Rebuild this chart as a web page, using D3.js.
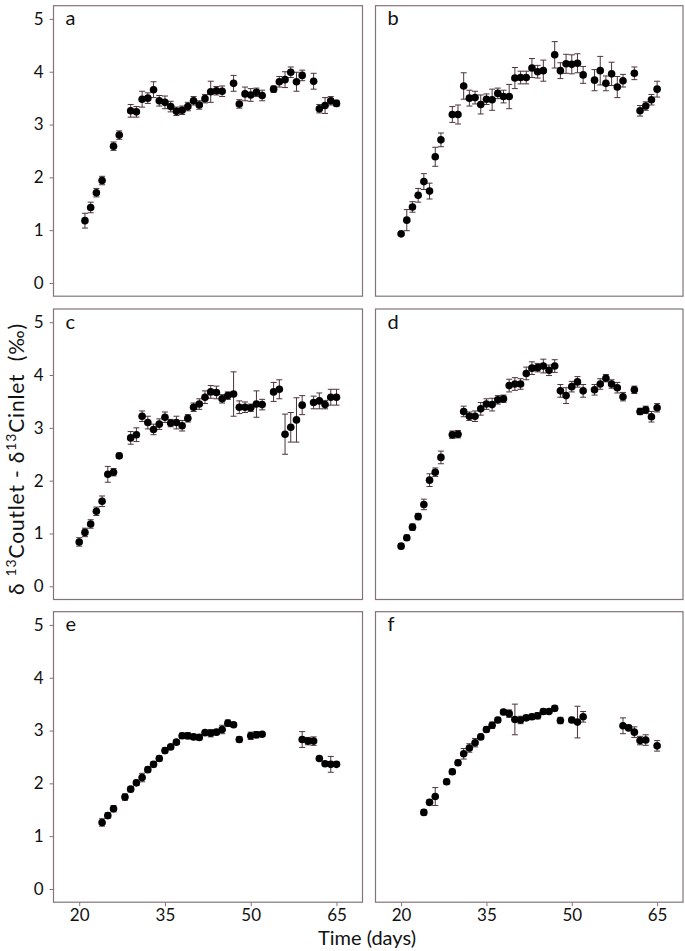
<!DOCTYPE html>
<html>
<head>
<meta charset="utf-8">
<script src="https://cdn.jsdelivr.net/npm/d3@7"></script>
<style>
  html, body { margin: 0; padding: 0; background: #fff; }
  svg { display: block; font-family: Lato, "Open Sans", sans-serif; }
</style>
</head>
<body>
<svg id="chart" width="685" height="951"></svg>
<script>
// ---------- DATA ----------
const xTicks = [20, 35, 50, 65];
const yTicks = [0, 1, 2, 3, 4, 5];
const panelLabels = ["a", "b", "c", "d", "e", "f"];

const daysA = [21,22,23,24,26,27,29,30,31,32,33,34,35,36,37,38,39,40,41,42,43,44,45,47,48,49,50,51,52,54,55,56,57,58,59,61,62,63,64,65];
const valsA = [1.18,1.43,1.71,1.94,2.59,2.80,3.26,3.24,3.48,3.50,3.66,3.45,3.42,3.34,3.25,3.27,3.34,3.45,3.37,3.49,3.62,3.64,3.63,3.78,3.39,3.58,3.56,3.61,3.55,3.67,3.81,3.85,3.99,3.81,3.93,3.82,3.30,3.36,3.45,3.40];
const errA  = [0.14,0.10,0.08,0.08,0.08,0.08,0.12,0.10,0.15,0.10,0.15,0.10,0.12,0.10,0.08,0.08,0.08,0.08,0.08,0.08,0.20,0.08,0.10,0.15,0.08,0.13,0.12,0.08,0.10,0.06,0.10,0.15,0.10,0.18,0.10,0.15,0.08,0.15,0.08,0.06];

const daysB = [20,21,22,23,24,25,26,27,29,30,31,32,33,34,35,36,37,38,39,40,41,42,43,44,45,47,48,49,50,51,52,54,55,56,57,58,59,61,62,63,64,65];
const valsB = [0.93,1.19,1.44,1.66,1.92,1.74,2.39,2.71,3.19,3.19,3.73,3.50,3.51,3.38,3.48,3.47,3.59,3.53,3.53,3.88,3.89,3.89,4.07,4.00,4.02,4.32,4.02,4.15,4.14,4.16,3.94,3.84,4.02,3.78,3.96,3.71,3.83,3.97,3.26,3.35,3.47,3.67];
const errB  = [0.03,0.20,0.10,0.13,0.15,0.15,0.18,0.13,0.15,0.18,0.25,0.15,0.12,0.18,0.10,0.20,0.10,0.12,0.23,0.20,0.12,0.12,0.18,0.12,0.20,0.25,0.15,0.18,0.18,0.18,0.16,0.20,0.27,0.14,0.22,0.20,0.12,0.12,0.10,0.08,0.10,0.15];

const daysC = [20,21,22,23,24,25,26,27,29,30,31,32,33,34,35,36,37,38,39,40,41,42,43,44,45,46,47,48,49,50,51,52,54,55,56,57,58,59,61,62,63,64,65];
const valsC = [0.84,1.02,1.18,1.42,1.61,2.12,2.16,2.47,2.81,2.87,3.22,3.10,2.97,3.07,3.20,3.09,3.10,3.04,3.18,3.39,3.45,3.58,3.68,3.67,3.55,3.61,3.64,3.39,3.39,3.38,3.45,3.44,3.68,3.73,2.88,3.01,3.15,3.43,3.48,3.51,3.44,3.58,3.58];
const errC  = [0.08,0.08,0.08,0.08,0.10,0.15,0.07,0.05,0.12,0.13,0.10,0.12,0.10,0.10,0.10,0.07,0.12,0.10,0.07,0.08,0.10,0.12,0.12,0.12,0.08,0.07,0.42,0.12,0.10,0.07,0.25,0.10,0.18,0.18,0.38,0.28,0.42,0.18,0.12,0.15,0.08,0.15,0.15];

const daysD = [20,21,22,23,24,25,26,27,29,30,31,32,33,34,35,36,37,38,39,40,41,42,43,44,45,46,47,48,49,50,51,52,54,55,56,57,58,59,61,62,63,64,65];
const valsD = [0.76,0.92,1.12,1.32,1.55,2.01,2.16,2.44,2.87,2.88,3.31,3.22,3.22,3.36,3.45,3.44,3.53,3.55,3.80,3.83,3.83,4.03,4.13,4.14,4.17,4.09,4.17,3.70,3.61,3.78,3.87,3.70,3.72,3.83,3.94,3.83,3.76,3.59,3.72,3.31,3.34,3.21,3.38];
const errD  = [0.05,0.05,0.06,0.06,0.10,0.12,0.08,0.12,0.07,0.07,0.10,0.08,0.10,0.12,0.10,0.12,0.08,0.07,0.12,0.12,0.10,0.12,0.12,0.08,0.13,0.10,0.12,0.12,0.15,0.10,0.10,0.12,0.10,0.10,0.07,0.08,0.10,0.08,0.07,0.06,0.07,0.10,0.08];

const daysE = [24,25,26,28,29,30,31,32,33,34,35,36,37,38,39,40,41,42,43,44,45,46,47,48,50,51,52,59,60,61,62,63,64,65];
const valsE = [1.26,1.39,1.52,1.74,1.89,2.01,2.11,2.26,2.36,2.47,2.62,2.69,2.78,2.90,2.90,2.88,2.87,2.96,2.95,2.97,3.02,3.14,3.11,2.83,2.90,2.92,2.93,2.83,2.80,2.80,2.47,2.37,2.36,2.36];
const errE  = [0.07,0.05,0.06,0.06,0.05,0.05,0.08,0.05,0.05,0.05,0.05,0.04,0.04,0.05,0.06,0.05,0.05,0.04,0.07,0.05,0.08,0.06,0.04,0.05,0.07,0.06,0.04,0.15,0.07,0.08,0.04,0.04,0.15,0.04];

const daysF = [24,25,26,28,29,30,31,32,33,34,35,36,37,38,39,40,41,42,43,44,45,46,47,48,50,51,52,59,60,61,62,63,65];
const valsF = [1.45,1.64,1.75,2.03,2.22,2.39,2.56,2.67,2.77,2.88,3.02,3.10,3.20,3.35,3.32,3.21,3.20,3.24,3.26,3.28,3.36,3.36,3.42,3.19,3.20,3.16,3.26,3.09,3.05,2.97,2.81,2.82,2.71];
const errF  = [0.05,0.05,0.17,0.05,0.05,0.05,0.10,0.08,0.08,0.05,0.05,0.06,0.05,0.05,0.07,0.29,0.07,0.05,0.05,0.06,0.05,0.04,0.05,0.06,0.05,0.30,0.10,0.15,0.05,0.10,0.08,0.10,0.10];

const seriesDays = [daysA, daysB, daysC, daysD, daysE, daysF];
const seriesVals = [valsA, valsB, valsC, valsD, valsE, valsF];
const seriesErr  = [errA, errB, errC, errD, errE, errF];

// ---------- LAYOUT ----------
const colX = [[53.5, 362.5], [375.5, 683]];
const rowY = [5.7, 309, 611.7];
const panelH = 290.5;
const borderColor = "#857379";
const errColor = "#4f3338";

const svg = d3.select("#chart");

for (let i = 0; i < 6; i++) {
  const col = i % 2, row = Math.floor(i / 2);
  const [x0, x1] = colX[col];
  const y0 = rowY[row], y1 = y0 + panelH;

  const x = d3.scaleLinear().domain([15.5, 69.55]).range([x0, x1]);
  const y = d3.scaleLinear().domain([-0.25, 5.25]).range([y1, y0]);

  const g = svg.append("g");

  g.append("rect")
    .attr("x", x0).attr("y", y0)
    .attr("width", x1 - x0).attr("height", y1 - y0)
    .attr("fill", "none").attr("stroke", borderColor).attr("stroke-width", 1.2);

  if (col === 0) {
    const ya = g.append("g")
      .attr("transform", `translate(${x0},0)`)
      .call(d3.axisLeft(y).tickValues(yTicks).tickSize(4).tickPadding(6).tickFormat(d3.format("d")));
    ya.select(".domain").remove();
    ya.selectAll(".tick line").attr("stroke", borderColor).attr("stroke-width", 1);
    ya.selectAll(".tick text").attr("font-size", 17).attr("fill", "#111")
      .style("font-family", "Lato, 'Open Sans', sans-serif");
  }
  if (row === 2) {
    const xa = g.append("g")
      .attr("transform", `translate(0,${y1})`)
      .call(d3.axisBottom(x).tickValues(xTicks).tickSize(4).tickPadding(3).tickFormat(d3.format("d")));
    xa.select(".domain").remove();
    xa.selectAll(".tick line").attr("stroke", borderColor).attr("stroke-width", 1);
    xa.selectAll(".tick text").attr("font-size", 17).attr("fill", "#111")
      .style("font-family", "Lato, 'Open Sans', sans-serif");
  }

  g.append("text")
    .attr("x", x0 + 12).attr("y", y0 + 19.5)
    .attr("font-size", 20).attr("fill", "#111")
    .text(panelLabels[i]);

  const data = seriesDays[i].map((d, k) => ({ day: d, v: seriesVals[i][k], e: seriesErr[i][k] }));

  const eb = g.append("g").attr("stroke", errColor).attr("stroke-width", 1);
  eb.selectAll("line.v").data(data).join("line").attr("class", "v")
    .attr("x1", d => x(d.day)).attr("x2", d => x(d.day))
    .attr("y1", d => y(d.v - d.e)).attr("y2", d => y(d.v + d.e));
  eb.selectAll("line.t").data(data).join("line").attr("class", "t")
    .attr("x1", d => x(d.day) - 3).attr("x2", d => x(d.day) + 3)
    .attr("y1", d => y(d.v + d.e)).attr("y2", d => y(d.v + d.e));
  eb.selectAll("line.b").data(data).join("line").attr("class", "b")
    .attr("x1", d => x(d.day) - 3).attr("x2", d => x(d.day) + 3)
    .attr("y1", d => y(d.v - d.e)).attr("y2", d => y(d.v - d.e));

  g.selectAll("circle").data(data).join("circle")
    .attr("cx", d => x(d.day)).attr("cy", d => y(d.v))
    .attr("r", 3.8).attr("fill", "#000");
}

svg.append("text")
  .attr("x", 367).attr("y", 945)
  .attr("text-anchor", "middle")
  .attr("font-size", 20).attr("fill", "#111")
  .text("Time (days)");

const yl = svg.append("text")
  .attr("transform", "translate(24,459) rotate(-90)")
  .attr("text-anchor", "middle")
  .attr("font-size", 21).attr("fill", "#111")
  .style("white-space", "pre");
yl.append("tspan").text("δ ");
yl.append("tspan").attr("font-size", 14).attr("dy", -8).text("13");
yl.append("tspan").attr("dy", 8).text("Coutlet - δ");
yl.append("tspan").attr("font-size", 14).attr("dy", -8).text("13");
yl.append("tspan").attr("dy", 8).text("Cinlet  (‰)");
const targetLen = 272;
const curLen = yl.node().getComputedTextLength();
const nChars = yl.text().length;
if (curLen < targetLen) yl.attr("letter-spacing", ((targetLen - curLen) / nChars).toFixed(2));
</script>
</body>
</html>
